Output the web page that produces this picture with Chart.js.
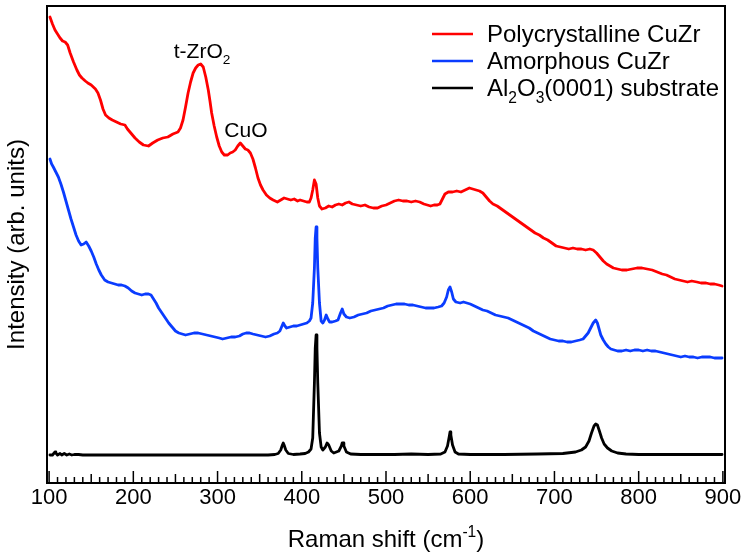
<!DOCTYPE html>
<html>
<head>
<meta charset="utf-8">
<script src="https://cdn.jsdelivr.net/npm/chart.js@4.4.1/dist/chart.umd.min.js"></script>
<style>
  html, body { margin: 0; padding: 0; background: #fff; }
</style>
</head>
<body>
<canvas id="ramanChart" width="744" height="555"></canvas>
<script>
// Raman shift (cm-1) and intensity (arb. units, spectra offset vertically)
const polyShift = [101,104,107,110,113,116,119,122,125,129,133,136,139,143,146,150,155,158,161,164,167,171,175,180,185,190,193,197,202,207,212,218,223,229,235,241,247,253,256,259,262,265,268,271,274,277,280,283,286,289,291,293,296,299,302,305,308,312,315,318,321,324,327,330,333,336,339,342,345,348,351,354,358,362,366,371,375,379,383,387,391,395,398,402,406,409,411,413,415,417,419,421,424,428,432,436,440,444,448,452,456,460,465,470,475,480,485,490,495,500,505,510,515,520,525,530,535,540,545,549,553,557,561,564,567,570,574,579,584,589,594,599,603,607,611,615,619,623,627,632,637,642,647,652,657,662,667,672,677,682,687,692,697,702,707,712,717,722,727,732,737,742,746,750,754,758,762,766,770,775,780,786,792,798,804,810,816,822,828,833,838,843,848,853,858,863,869,874,880,885,890,895,899];
const polyIntensity = [466,459,453,449,445,442,441,438,430,421,413,408,405,402,400,398,394,390,383,374,368,365,363,361,359,358,354,350,345,341,338,337,340,343,345,346,349,351,355,363,376,390,401,410,415,418,419,416,406,393,382,370,357,346,337,331,328,328,330,331,333,337,340,337,334,333,330,324,315,305,298,293,288,285,283,281,283,285,284,283,284,282,283,282,281,281,285,293,303,299,285,277,274,275,277,276,278,279,278,280,281,279,278,277,278,276,275,275,277,278,280,282,283,282,282,281,282,281,279,278,277,278,278,279,284,289,291,291,292,291,293,295,294,293,292,290,286,282,279,277,274,271,268,265,262,259,256,253,250,248,245,243,240,237,236,235,234,235,234,234,233,234,233,230,226,222,219,217,215,214,213,213,214,215,215,214,213,211,209,208,206,204,203,202,201,202,201,200,200,199,199,198,197];

const amorShift = [101,103,105,108,111,114,117,120,123,126,129,132,135,138,141,144,147,150,153,156,159,162,166,170,174,178,182,186,190,194,198,202,206,210,214,218,221,224,227,230,234,238,242,246,250,254,258,262,267,272,277,282,287,292,297,302,306,311,316,321,326,330,334,338,342,347,352,357,362,367,371,374,376,378,380,382,386,390,394,398,402,406,409,411,413,415,416,417,418,419,421,423,425,427,429,431,433,436,440,443,446,448,450,453,457,462,467,472,477,482,487,492,497,502,507,512,517,522,527,532,537,542,547,552,557,562,566,569,572,574,576,578,580,583,588,592,596,600,605,610,615,620,625,630,635,640,645,650,655,660,665,670,675,680,685,690,695,700,705,710,715,720,725,730,734,737,740,743,746,749,751,753,755,758,761,764,767,771,775,780,785,790,795,800,805,810,815,820,825,830,835,840,845,850,855,860,865,870,875,880,885,890,895,899];
const amorIntensity = [324,319,316,311,306,299,291,282,273,264,256,248,242,238,239,241,237,232,226,219,213,208,203,201,200,199,198,198,197,195,192,190,189,188,189,189,188,184,180,175,170,165,160,156,152,150,149,148,149,150,150,149,148,147,146,145,144,145,146,146,147,149,150,150,149,148,147,146,147,149,150,152,156,160,157,155,156,157,157,158,159,160,162,165,180,215,245,256,245,215,180,162,160,163,168,164,161,161,162,163,170,174,169,166,165,166,168,169,170,172,173,174,175,177,178,179,179,179,178,178,177,176,175,175,175,176,177,180,186,193,196,191,184,181,180,181,180,179,177,175,173,172,170,168,167,166,165,163,161,159,157,155,152,150,148,146,144,143,142,142,141,141,142,143,144,147,150,155,160,163,160,154,148,143,139,136,134,133,132,132,133,132,133,133,132,133,132,132,131,130,129,128,127,126,127,126,126,125,126,126,126,125,125,125];

const substrateShift = [101,104,106,107,108,110,113,115,118,121,124,127,130,135,140,160,200,250,300,340,360,368,372,375,377,378,379,381,384,390,398,404,408,411,413,415,416,417,418,419,421,423,425,428,430,431,432,435,438,441,444,447,448,449,450,453,458,470,490,510,530,550,565,570,573,575,576,577,579,582,586,600,640,680,710,725,732,737,741,744,747,749,751,753,756,759,763,768,775,785,800,830,860,899];
const substrateIntensity = [28,28,30,31,30,28,29.5,28,29.5,28,29,28,28.5,28.5,28,28,28,28,28,28,28,28.5,29.5,33,38,40,38,33,29.5,28.5,29,29.5,31,34,45,100,135,148,135,100,50,36,33,36,40,40,38,32,30,31,32,37,40,40,37,31,29,28.5,28.5,28.5,29,28.5,29,31,37,46,51,48,38,31,29,28.5,28.5,29,29.5,31,33,36,42,50,57,59,58,53,45,39,35,32,30,29,28.5,28.5,28.5,28.5];

const seriesLabels = ['Polycrystalline CuZr', 'Amorphous CuZr', 'Al2O3(0001) substrate'];
const seriesColors = ['#ff0000', '#0a3cff', '#000000'];
const xTicks = [100, 200, 300, 400, 500, 600, 700, 800, 900];

const fontFamily = '"Liberation Sans", Arial, Helvetica, sans-serif';

function toPoints(xs, ys) {
    return xs.map((x, i) => ({ x: x, y: ys[i] }));
}

// text pieces: [text, 'sub' | 'sup' | undefined]
function richWidth(ctx, parts, size) {
    let w = 0;
    parts.forEach(([text, mode]) => {
        ctx.font = `${mode ? size * 0.65 : size}px ${fontFamily}`;
        w += ctx.measureText(text).width;
    });
    return w;
}

function drawRich(ctx, parts, x, y, size) {
    parts.forEach(([text, mode]) => {
        const s = mode ? size * 0.65 : size;
        const dy = mode === 'sub' ? size * 0.28 : mode === 'sup' ? -size * 0.42 : 0;
        ctx.font = `${s}px ${fontFamily}`;
        ctx.fillText(text, x, y + dy);
        x += ctx.measureText(text).width;
    });
}

const legendParts = [
    [['Polycrystalline CuZr']],
    [['Amorphous CuZr']],
    [['Al'], ['2', 'sub'], ['O'], ['3', 'sub'], ['(0001) substrate']]
];

const framePlugin = {
    id: 'frame',
    afterDraw(chart) {
        const { ctx, chartArea: a, scales } = chart;
        const xs = scales.x, ys = scales.y;
        ctx.save();

        // inward ticks on the bottom axis
        ctx.strokeStyle = '#000';
        ctx.lineWidth = 1.5;
        for (let v = 100; v <= 900; v += 10) {
            const len = v % 100 === 0 ? 12 : v % 50 === 0 ? 9 : 6;
            const px = xs.getPixelForValue(v);
            ctx.beginPath();
            ctx.moveTo(px, a.bottom);
            ctx.lineTo(px, a.bottom - len);
            ctx.stroke();
        }

        // box
        ctx.lineWidth = 2;
        ctx.strokeRect(a.left, a.top, a.right - a.left, a.bottom - a.top);

        // peak labels
        ctx.fillStyle = '#000';
        ctx.textBaseline = 'alphabetic';
        ctx.textAlign = 'left';
        drawRich(ctx, [['t-ZrO'], ['2', 'sub']], xs.getPixelForValue(248), ys.getPixelForValue(425), 21);
        drawRich(ctx, [['CuO']], xs.getPixelForValue(308), ys.getPixelForValue(346), 21);

        // legend
        legendParts.forEach((parts, i) => {
            const cy = a.top + 28 + i * 27;
            ctx.strokeStyle = seriesColors[i];
            ctx.lineWidth = 2.5;
            ctx.beginPath();
            ctx.moveTo(a.right - 293, cy);
            ctx.lineTo(a.right - 252, cy);
            ctx.stroke();
            ctx.fillStyle = '#000';
            drawRich(ctx, parts, a.right - 238, cy + 8, 24);
        });

        // x axis title with superscript
        const title = [['Raman shift (cm'], ['-1', 'sup'], [')']];
        const w = richWidth(ctx, title, 24);
        drawRich(ctx, title, (a.left + a.right) / 2 - w / 2, 547, 24);

        ctx.restore();
    }
};

const ctx = document.getElementById('ramanChart').getContext('2d');

new Chart(ctx, {
    type: 'line',
    data: {
        datasets: [
            { label: seriesLabels[0], data: toPoints(polyShift, polyIntensity), borderColor: seriesColors[0] },
            { label: seriesLabels[1], data: toPoints(amorShift, amorIntensity), borderColor: seriesColors[1] },
            { label: seriesLabels[2], data: toPoints(substrateShift, substrateIntensity), borderColor: seriesColors[2] }
        ]
    },
    options: {
        responsive: false,
        devicePixelRatio: 1,
        animation: false,
        elements: {
            point: { radius: 0 },
            line: { borderWidth: 2.8, tension: 0, borderJoinStyle: 'round', borderCapStyle: 'round' }
        },
        layout: { padding: { top: 6, right: 19, left: 3, bottom: 0 } },
        plugins: {
            legend: { display: false },
            tooltip: { enabled: false }
        },
        scales: {
            x: {
                type: 'linear',
                min: 97.5,
                max: 902.5,
                grid: { display: false, drawTicks: false },
                border: { display: false },
                afterBuildTicks: scale => { scale.ticks = xTicks.map(v => ({ value: v })); },
                afterFit: scale => { scale.height = 72; },
                ticks: {
                    color: '#000',
                    padding: 2,
                    maxRotation: 0,
                    autoSkip: false,
                    font: { family: fontFamily, size: 22 },
                    callback: v => v
                }
            },
            y: {
                min: 0,
                max: 477,
                grid: { display: false, drawTicks: false },
                border: { display: false },
                ticks: { display: false },
                afterFit: scale => { scale.width = 44; },
                title: {
                    display: true,
                    text: 'Intensity (arb. units)',
                    color: '#000',
                    padding: { top: 0, bottom: 0 },
                    font: { family: fontFamily, size: 24 }
                }
            }
        }
    },
    plugins: [framePlugin]
});
</script>
</body>
</html>
